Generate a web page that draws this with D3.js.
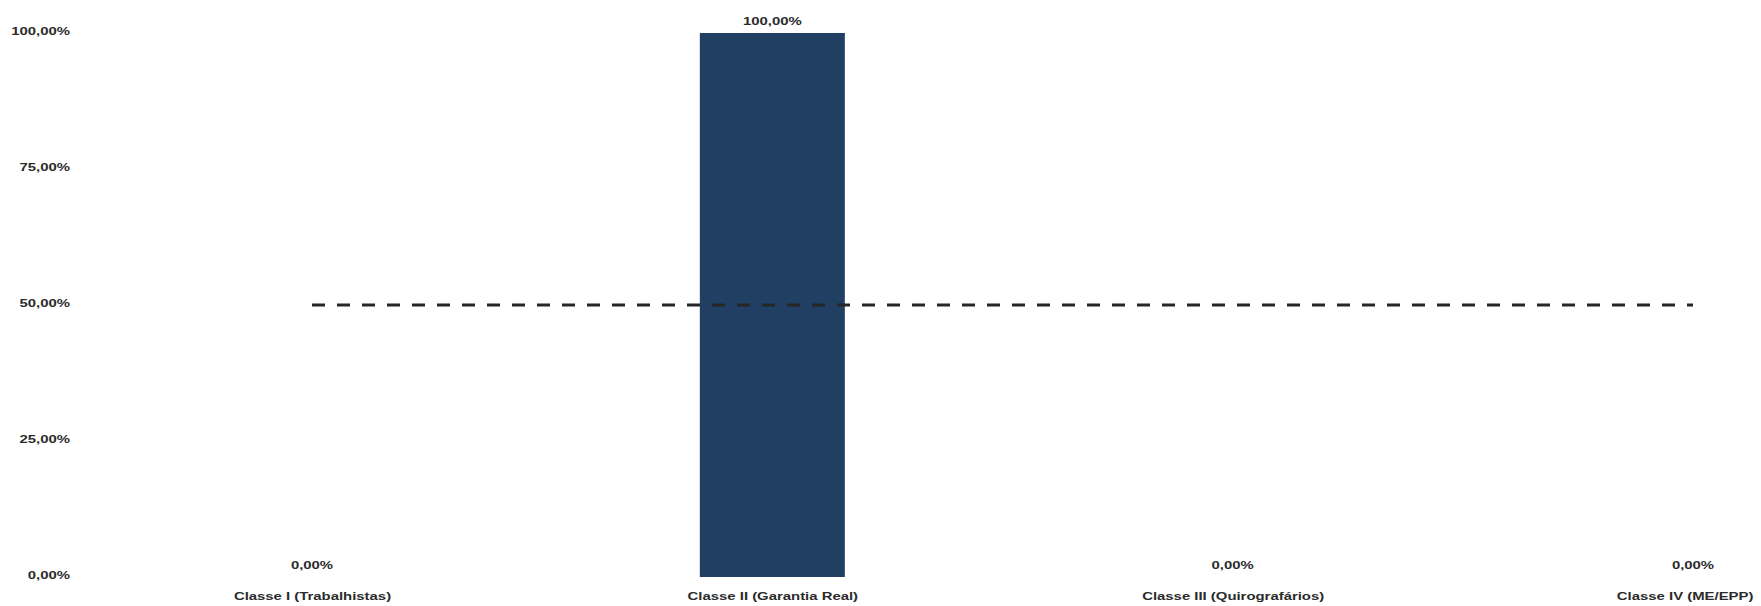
<!DOCTYPE html>
<html>
<head>
<meta charset="utf-8">
<script src="https://cdn.jsdelivr.net/npm/d3@7"></script>
<style>
  html, body { margin: 0; padding: 0; background: #fff; }
  svg { display: block; }
  text { font-family: "Liberation Sans", Arial, sans-serif; font-weight: bold; fill: #2b2b2b; }
</style>
</head>
<body>
<svg id="chart" width="1761" height="606"></svg>
<script>
// Share of creditors per class (percent)
const categories = [
  "Classe I (Trabalhistas)",
  "Classe II (Garantia Real)",
  "Classe III (Quirografários)",
  "Classe IV (ME/EPP)"
];
const shareValues = [0, 100, 0, 0];
// Approval threshold line (percent)
const thresholdValues = [50, 50, 50, 50];
const yTicks = [0, 25, 50, 75, 100];

const svg = d3.select("#chart");
const W = 1761, H = 606;

const locale = d3.formatLocale({ decimal: ",", thousands: ".", grouping: [3], currency: ["R$", ""] });
const fmt = v => locale.format(".2f")(v) + "%";

const x = d3.scalePoint().domain(categories).range([312, 1693]).padding(0);
const barW = x.step() * 0.315;
const y = d3.scaleLinear().domain([0, 100]).range([577, 33]);

const stretch = 1.42;
const fontSize = 10.5;

// y tick labels (no axis line)
const yAxis = d3.axisLeft(y).tickValues(yTicks).tickFormat(fmt).tickSize(0).tickPadding(0);
const gy = svg.append("g").attr("transform", "translate(70,0)").call(yAxis);
gy.select(".domain").remove();
gy.selectAll(".tick text")
  .attr("x", null).attr("dy", null)
  .attr("font-size", fontSize)
  .attr("dominant-baseline", "central")
  .attr("text-anchor", "end")
  .attr("transform", `translate(0,-2) scale(${stretch},1)`)
  .style("font-family", "'Liberation Sans', Arial, sans-serif")
  .style("fill", "#2b2b2b");

const data = categories.map((c, i) => ({ c, v: shareValues[i], t: thresholdValues[i] }));

// bars
svg.append("g").selectAll("rect").data(data).join("rect")
  .attr("x", d => x(d.c) - barW / 2)
  .attr("width", barW)
  .attr("y", d => y(d.v))
  .attr("height", d => y(0) - y(d.v))
  .attr("fill", "#213e63");

// threshold dashed line
const line = d3.line().x(d => x(d.c)).y(d => y(d.t));
svg.append("path").datum(data)
  .attr("d", line)
  .attr("fill", "none")
  .attr("stroke", "#262626")
  .attr("stroke-width", 3.2)
  .attr("stroke-dasharray", "13,12");

// value labels
svg.append("g").selectAll("text").data(data).join("text")
  .attr("transform", d => `translate(${x(d.c)},${y(d.v) - 12}) scale(${stretch},1)`)
  .attr("text-anchor", "middle")
  .attr("dominant-baseline", "central")
  .attr("font-size", fontSize)
  .text(d => fmt(d.v));

// category labels, kept inside the canvas on the right
const xAxis = d3.axisBottom(x).tickSize(0).tickPadding(0);
const gx = svg.append("g").attr("transform", `translate(0,${y(0) + 19})`).call(xAxis);
gx.select(".domain").remove();
gx.selectAll(".tick text")
  .attr("y", null).attr("dy", null)
  .attr("font-size", fontSize)
  .attr("dominant-baseline", "central")
  .style("font-family", "'Liberation Sans', Arial, sans-serif")
  .style("fill", "#2b2b2b")
  .each(function (d) {
    const half = this.getBBox().width * stretch / 2;
    const overflow = Math.max(0, x(d) + half - (W - 8));
    d3.select(this).attr("transform", `translate(${-overflow},0) scale(${stretch},1)`);
  });
</script>
</body>
</html>
